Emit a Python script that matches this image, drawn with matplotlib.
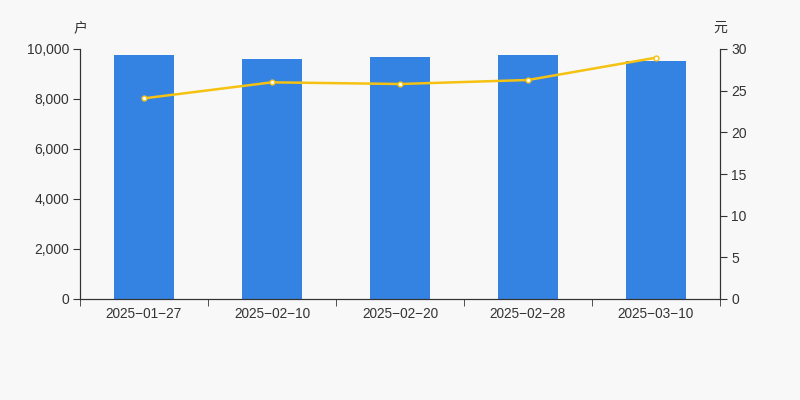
import matplotlib
matplotlib.use("Agg")
import matplotlib.pyplot as plt
from matplotlib.ticker import FuncFormatter, MultipleLocator
import numpy as np

plt.rcParams["font.family"] = ["Liberation Sans", "Noto Sans CJK SC", "DejaVu Sans"]

dates = ["2025-01-27", "2025-02-10", "2025-02-20", "2025-02-28", "2025-03-10"]
holders = [9760, 9612, 9680, 9747, 9520]
price = [24.08, 26.0, 25.8, 26.28, 28.96]

BAR_COLOR = "#3483e3"
LINE_COLOR = "#f5c211"
TEXT_COLOR = "#333333"
BG = "#f8f8f8"

fig = plt.figure(figsize=(8, 4), dpi=100, facecolor=BG)
ax = fig.add_axes([0.1, 0.2525, 0.8, 0.625], facecolor=BG)
ax2 = ax.twinx()

x = np.arange(len(dates))
ax.bar(x, holders, width=0.47, color=BAR_COLOR, zorder=2)
ax2.plot(x, price, color=LINE_COLOR, lw=1.8, marker="o", ms=3.5,
         markerfacecolor="white", markeredgecolor=LINE_COLOR,
         markeredgewidth=1.0, zorder=3)

ax.set_xlim(-0.5, len(dates) - 0.5)
ax.set_ylim(0, 10000)
ax2.set_ylim(0, 30)
ax.yaxis.set_major_locator(MultipleLocator(2000))
ax2.yaxis.set_major_locator(MultipleLocator(5))
ax.yaxis.set_major_formatter(FuncFormatter(lambda v, p: f"{int(v):,}"))

# category labels centred, tick marks on the boundaries
ax.set_xticks(x)
ax.set_xticklabels([d.replace("-", "\u2212") for d in dates])
ax.set_xticks(np.arange(-0.5, len(dates)), minor=True)
ax.tick_params(axis="x", which="major", length=0, pad=6,
               labelsize=9.8, labelcolor=TEXT_COLOR)
ax.tick_params(axis="x", which="minor", length=5, color=TEXT_COLOR)
ax.tick_params(axis="y", length=5, color=TEXT_COLOR, labelsize=10,
               labelcolor=TEXT_COLOR, pad=3)
ax2.tick_params(axis="y", length=5, color=TEXT_COLOR, labelsize=10,
                labelcolor=TEXT_COLOR, pad=3)

for a in (ax, ax2):
    a.spines["top"].set_visible(False)
    for s in ("left", "right", "bottom"):
        a.spines[s].set_color(TEXT_COLOR)
        a.spines[s].set_linewidth(0.8)

fig.text(0.1, 0.93, "户", ha="center", va="center", fontsize=10,
         color=TEXT_COLOR, family=["Noto Sans CJK SC", "DejaVu Sans"])
fig.text(0.9, 0.93, "元", ha="center", va="center", fontsize=10,
         color=TEXT_COLOR, family=["Noto Sans CJK SC", "DejaVu Sans"])

fig.savefig("out.png", dpi=100, facecolor=BG)
